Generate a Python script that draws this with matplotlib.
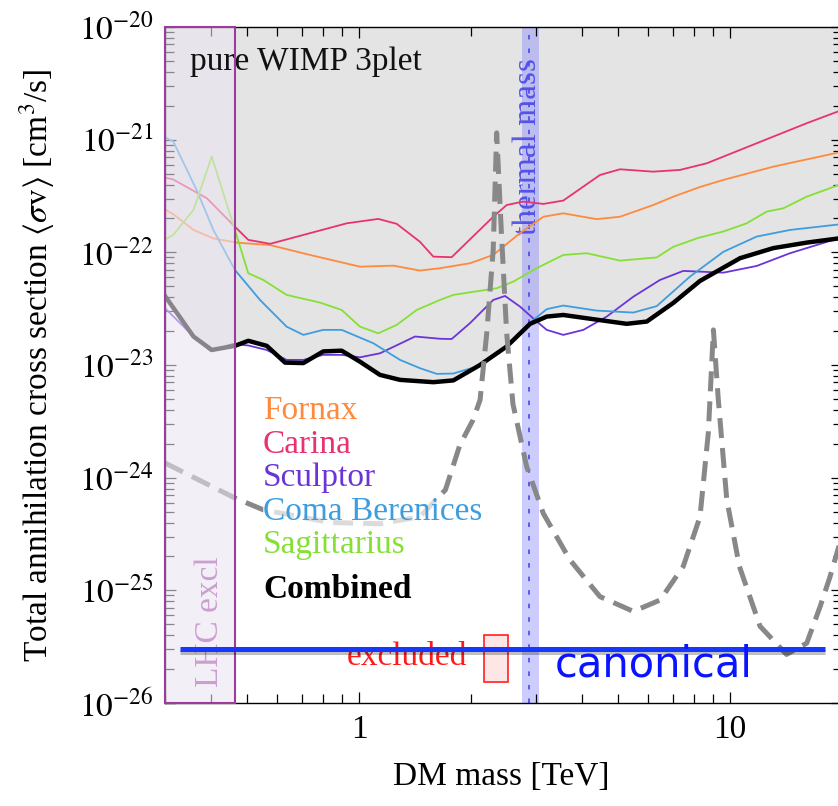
import matplotlib
matplotlib.use('Agg')
import matplotlib.pyplot as plt
import matplotlib.patheffects as pe
import matplotlib.transforms as mtransforms
from matplotlib.patches import Rectangle
from matplotlib.ticker import NullFormatter, FixedLocator, FixedFormatter, LogLocator

plt.rcParams['font.family'] = ['Liberation Serif', 'DejaVu Serif']
plt.rcParams['mathtext.fontset'] = 'stix'

# ---------------- data ----------------
fornax_m = [0.30, 0.316, 0.358, 0.405, 0.468, 0.576, 0.738, 1.006, 1.237, 1.460, 1.653, 1.991, 2.301,
            2.716, 3.140, 3.553, 4.372, 5.052, 6.213, 7.035, 8.298, 9.592, 13.08, 20.0]
fornax_s = [2.4e-22, 2.18e-22, 1.58e-22, 1.33e-22, 1.22e-22, 1.16e-22, 9.48e-23, 7.46e-23, 7.62e-23, 6.89e-23,
            7.23e-23, 8.0e-23, 9.48e-23, 1.48e-22, 2.07e-22, 2.22e-22, 1.97e-22, 2.07e-22, 2.63e-22, 3.12e-22,
            3.80e-22, 4.39e-22, 5.76e-22, 7.8e-22]

carina_m = [0.30, 0.315, 0.389, 0.458, 0.503, 0.576, 0.738, 0.927, 1.127, 1.264, 1.460, 1.586, 1.777, 2.301,
            2.501, 2.767, 3.140, 3.553, 4.463, 5.052, 6.201, 7.333, 8.655, 11.80, 16.10, 20.0]
carina_s = [4.6e-22, 4.45e-22, 3.02e-22, 1.75e-22, 1.29e-22, 1.19e-22, 1.48e-22, 1.81e-22, 1.98e-22, 1.79e-22,
            1.24e-22, 9.16e-23, 9.05e-23, 2.07e-22, 2.63e-22, 2.82e-22, 2.69e-22, 2.88e-22, 4.86e-22, 5.46e-22,
            5.20e-22, 5.39e-22, 6.17e-22, 9.29e-22, 1.40e-21, 1.83e-21]

sculptor_m = [0.30, 0.358, 0.397, 0.458, 0.503, 0.564, 0.638, 0.708, 0.801, 0.898, 1.006, 1.139, 1.416, 1.653,
              1.777, 1.991, 2.301, 2.475, 2.716, 2.981, 3.206, 3.553, 4.024, 4.652, 5.488, 6.477, 7.48, 9.592,
              11.80, 14.51, 20.0]
sculptor_s = [3.2e-23, 1.79e-23, 1.34e-23, 1.54e-23, 1.49e-23, 1.36e-23, 1.11e-23, 1.11e-23, 1.23e-23, 1.23e-23,
              1.17e-23, 1.27e-23, 1.79e-23, 1.71e-23, 1.70e-23, 2.35e-23, 3.78e-23, 4.10e-23, 3.30e-23, 2.51e-23,
              2.05e-23, 1.85e-23, 2.05e-23, 2.69e-23, 4.04e-23, 5.69e-23, 6.84e-23, 6.60e-23, 7.57e-23, 9.82e-23,
              1.36e-22]

coma_m = [0.30, 0.316, 0.365, 0.405, 0.463, 0.541, 0.638, 0.708, 0.801, 0.898, 1.093, 1.290, 1.460, 1.620,
          1.796, 2.076, 2.449, 2.950, 3.206, 3.553, 4.372, 5.488, 6.344, 7.80, 9.592, 11.80, 14.51, 20.0]
coma_s = [1.05e-21, 9.60e-22, 3.58e-22, 1.58e-22, 6.98e-23, 3.78e-23, 2.19e-23, 1.85e-23, 2.05e-23, 2.05e-23,
          1.56e-23, 1.11e-23, 9.37e-24, 8.34e-24, 8.4e-24, 9.68e-24, 1.41e-23, 2.51e-23, 3.13e-23, 3.37e-23,
          3.04e-23, 2.92e-23, 3.33e-23, 6.09e-23, 1.01e-22, 1.38e-22, 1.58e-22, 1.78e-22]

sagitt_m = [0.30, 0.316, 0.358, 0.401, 0.463, 0.503, 0.552, 0.638, 0.785, 0.898, 1.006, 1.127, 1.264, 1.431,
            1.653, 1.796, 2.350, 2.606, 3.013, 3.553, 4.109, 5.052, 6.344, 7.035, 8.196, 9.592, 11.09, 12.56,
            13.92, 16.10, 20.0]
sagitt_s = [1.3e-22, 1.43e-22, 2.38e-22, 7.07e-22, 1.58e-22, 6.52e-23, 5.69e-23, 4.19e-23, 3.58e-23, 3.08e-23,
            2.19e-23, 1.91e-23, 2.27e-23, 3.08e-23, 3.78e-23, 4.19e-23, 4.80e-23, 5.50e-23, 7.23e-23, 9.48e-23,
            9.82e-23, 8.44e-23, 9.01e-23, 1.12e-22, 1.34e-22, 1.53e-22, 1.81e-22, 2.30e-22, 2.46e-22, 3.12e-22,
            4.05e-22]

combined_m = [0.30, 0.358, 0.401, 0.463, 0.503, 0.564, 0.632, 0.708, 0.801, 0.898, 1.006, 1.139, 1.290, 1.586,
              1.796, 2.119, 2.501, 2.891, 3.206, 3.553, 4.28, 5.267, 5.965, 7.035, 8.298, 10.64, 13.08, 16.10,
              20.0]
combined_s = [4.1e-23, 1.79e-23, 1.36e-23, 1.48e-23, 1.64e-23, 1.48e-23, 1.05e-23, 1.04e-23, 1.32e-23, 1.34e-23,
              1.07e-23, 8.17e-24, 7.38e-24, 7.04e-24, 7.3e-24, 1.0e-23, 1.46e-23, 2.32e-23, 2.69e-23, 2.78e-23,
              2.55e-23, 2.32e-23, 2.43e-23, 3.56e-23, 5.57e-23, 8.87e-23, 1.09e-22, 1.22e-22, 1.34e-22]

theory_m = [0.30, 0.463, 0.551, 0.693, 0.835, 1.14, 1.46, 1.71, 1.87, 2.03, 2.12, 2.21, 2.30, 2.35, 2.42,
            2.50, 2.60, 2.83, 3.14, 3.70, 4.46, 5.49, 6.48, 7.48, 8.30, 8.74, 9.02, 9.30, 9.80, 10.6, 12.05,
            14.2, 16.1, 17.5, 18.6, 20.0]
theory_s = [1.35e-24, 6.6e-25, 5.2e-25, 4.5e-25, 4.0e-25, 3.9e-25, 4.5e-25, 7.8e-25, 1.95e-24, 3.26e-24,
            4.9e-24, 1.93e-23, 1.05e-22, 1.15e-21, 1.49e-22, 1.93e-23, 4.5e-24, 1.26e-24, 4.8e-25, 1.87e-25,
            8.8e-26, 6.5e-26, 8.2e-26, 1.63e-25, 4.5e-25, 2.5e-24, 2.05e-23, 4.9e-24, 6.4e-25, 1.63e-25,
            4.8e-26, 2.7e-26, 3.4e-26, 7.2e-26, 1.32e-25, 3.0e-25]

lhc_excl = (0.30, 0.463)
thermal_band = (2.745, 3.06)
thermal_mass = 2.88
canonical_sigma = 3.0e-26
canonical_range = (0.33, 18.0)
excluded_box_m = (2.177, 2.517)
excluded_box_s = (1.55e-26, 4.03e-26)

x_ticks = [1, 10]
x_tick_labels = ['1', '10']
y_ticks = [1e-26, 1e-25, 1e-24, 1e-23, 1e-22, 1e-21, 1e-20]
y_tick_labels = [r'$10^{-26}$', r'$10^{-25}$', r'$10^{-24}$', r'$10^{-23}$', r'$10^{-22}$', r'$10^{-21}$',
                 r'$10^{-20}$']

dwarf_names = ['Fornax', 'Carina', 'Sculptor', 'Coma Berenices', 'Sagittarius']
dwarf_colors = ['#ff8a3d', '#e8336e', '#6a35d8', '#3d9de0', '#85e035']
dwarf_m = [fornax_m, carina_m, sculptor_m, coma_m, sagitt_m]
dwarf_s = [fornax_s, carina_s, sculptor_s, coma_s, sagitt_s]

# ---------------- figure ----------------
W, H = 838, 806
fig = plt.figure(figsize=(W / 100, H / 100), dpi=100)
ax = fig.add_axes([165 / W, 103 / H, 676.7 / W, 676 / H])
ax.set_xscale('log')
ax.set_yscale('log')
ax.set_xlim(0.3, 20)
ax.set_ylim(1e-26, 1e-20)

# grey excluded region above the combined bound
ax.fill_between(combined_m, combined_s, 1e-20, color='#e4e4e4', lw=0, zorder=0.5)

# thermal mass band
ax.axvspan(*thermal_band, color=(0.5, 0.5, 1.0), alpha=0.4, lw=0, zorder=0.8)
ax.axvline(thermal_mass, color='#5050ee', lw=1.3, ls=(0, (2.5, 5)), zorder=0.9)

# dwarf limits
for m, s, c in zip(dwarf_m, dwarf_s, dwarf_colors):
    ax.plot(m, s, color=c, lw=1.3, zorder=2)
ax.plot(combined_m, combined_s, color='black', lw=3.2, zorder=2.2)

# theory prediction
ax.plot(theory_m, theory_s, color='#888888', lw=3.6, ls=(0, (4, 2)), dash_capstyle='butt', zorder=2.4)

# LHC exclusion overlay
ax.axvspan(*lhc_excl, color=(236 / 255, 228 / 255, 241 / 255), alpha=0.58, lw=0, zorder=3)
ax.add_patch(Rectangle((lhc_excl[0], 1e-26), lhc_excl[1] - lhc_excl[0], 1e-20 - 1e-26,
                       fill=False, edgecolor='#9b3b9b', lw=1.5, clip_on=False, zorder=6))

# texts
trans = mtransforms.blended_transform_factory(ax.transData, ax.transAxes)
ax.text(2.85, 0.954, 'thermal mass', rotation=90, color='#4040e8', alpha=0.85,
        ha='center', va='top', fontsize=24, transform=trans, zorder=0.85)
ax.text(0.397, 0.024, 'LHC excl', rotation=90, color='#cb9fd0', ha='center', va='bottom',
        fontsize=24, transform=trans, zorder=4)
ax.text(0.037, 0.936, 'pure WIMP 3plet', color='#111111', fontsize=24, transform=ax.transAxes,
        ha='left', va='baseline', zorder=5)

leg_y = [0.420, 0.370, 0.321, 0.271, 0.222]
for name, c, yy in zip(dwarf_names, dwarf_colors, leg_y):
    ax.text(0.145, yy, name, color=c, fontsize=24, transform=ax.transAxes, ha='left', va='baseline',
            zorder=5, bbox=dict(facecolor='white', edgecolor='none', alpha=0.7, pad=0))
ax.text(0.145, 0.155, 'Combined', color='black', fontsize=24, fontweight='bold', transform=ax.transAxes,
        ha='left', va='baseline', zorder=5)

ax.add_patch(Rectangle((excluded_box_m[0], excluded_box_s[0]), excluded_box_m[1] - excluded_box_m[0],
                       excluded_box_s[1] - excluded_box_s[0], facecolor='#ffe6e6', edgecolor='#ff2020',
                       lw=1.2, zorder=4))
ax.text(0.927, 2.18e-26, 'excluded', color='#ff1a1a', fontsize=24, ha='left', va='baseline', zorder=4)

ax.plot(canonical_range, [canonical_sigma] * 2, color='#1438ff', lw=3.6, solid_capstyle='butt', zorder=7,
        path_effects=[pe.SimpleLineShadow(offset=(0, -2), alpha=0.25), pe.Normal()])
ax.text(3.375, 1.71e-26, 'canonical', color='#0a14ff', fontsize=30, family='DejaVu Sans',
        ha='left', va='baseline', zorder=7)

# axes styling
ax.tick_params(which='both', direction='in', top=True, right=True, width=0.9, colors='black')
ax.tick_params(which='major', length=8, labelsize=24, pad=8)
ax.tick_params(which='minor', length=6.5)
ax.xaxis.set_major_locator(FixedLocator(x_ticks))
ax.xaxis.set_major_formatter(FixedFormatter(x_tick_labels))
ax.xaxis.set_minor_locator(LogLocator(base=10, subs=range(2, 10)))
ax.xaxis.set_minor_formatter(NullFormatter())
ax.yaxis.set_major_locator(FixedLocator(y_ticks))
ax.yaxis.set_major_formatter(FixedFormatter(y_tick_labels))
ax.yaxis.set_minor_locator(LogLocator(base=10, subs=range(2, 10), numticks=20))
ax.yaxis.set_minor_formatter(NullFormatter())
for sp in ax.spines.values():
    sp.set_linewidth(1.0)

ax.set_xlabel('DM mass [TeV]', fontsize=24, va='center')
ax.xaxis.set_label_coords(0.497, -0.1095)
ax.set_ylabel(r'Total annihilation cross section $\langle\sigma\mathrm{v}\rangle$ [cm$^3$/s]',
              fontsize=24, va='center')
ax.yaxis.set_label_coords(-0.189, 0.5)

fig.savefig('out.png', dpi=100)
